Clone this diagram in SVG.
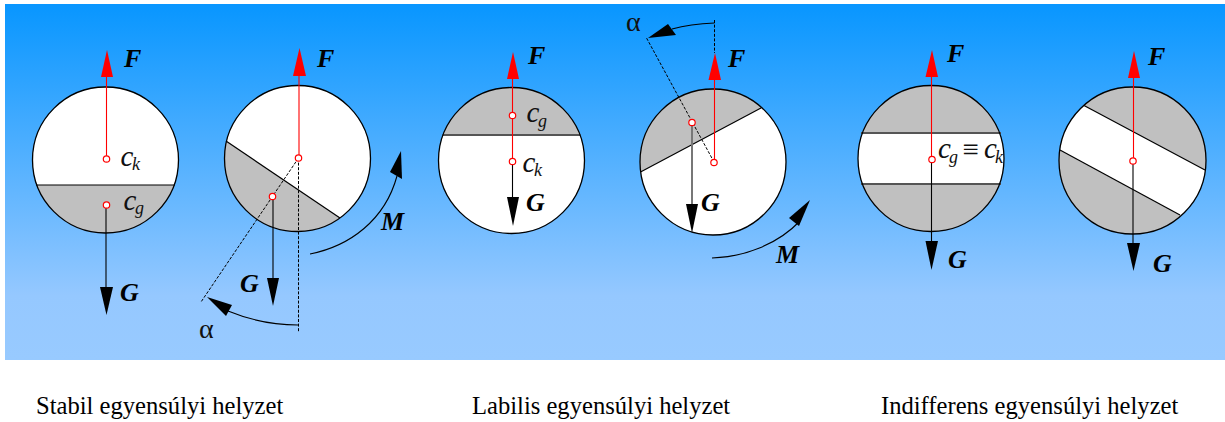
<svg xmlns="http://www.w3.org/2000/svg" width="1225" height="422" viewBox="0 0 1225 422">
<style>
.disc{fill:#fff;stroke:none}
.fill{fill:#c0c0c0;stroke:none}
.ring{fill:none;stroke:#000;stroke-width:1.3}
.chord{stroke:#000;stroke-width:1.2;fill:none}
.thick{stroke:#555;stroke-width:2;fill:none}
.f{stroke:#f00;stroke-width:1.1;fill:none}
.g{stroke:#000;stroke-width:1.1;fill:none}
.dash{stroke:#000;stroke-width:1;stroke-dasharray:3 1.6;fill:none}
.arc{stroke:#000;stroke-width:1.1;fill:none}
.hr{fill:#f00;stroke:none}
.hk{fill:#000;stroke:none}
.dot{fill:#fff;stroke:#f00;stroke-width:1.2}
.b{font:italic bold 26px "Liberation Serif",serif;fill:#000}
.c{font:italic 29px "Liberation Serif",serif;fill:#111}
.s{font:italic 18px "Liberation Serif",serif;fill:#111}
.e{font:29px "Liberation Serif",serif;fill:#111}
.a{font:28px "Liberation Serif",serif;fill:#111}
.t{font:24.6px "Liberation Serif",serif;fill:#000}
</style>
<defs>
<linearGradient id="bg" x1="0" y1="0" x2="0" y2="1"><stop offset="0" stop-color="#0896ff"/><stop offset="0.82" stop-color="#95c8ff"/><stop offset="1" stop-color="#98caff"/></linearGradient>
<clipPath id="c1"><circle cx="105.5" cy="160" r="73"/></clipPath>
<clipPath id="c2"><circle cx="297.5" cy="158.5" r="73"/></clipPath>
<clipPath id="c3"><circle cx="511.5" cy="160.5" r="73"/></clipPath>
<clipPath id="c4"><circle cx="713" cy="162" r="73"/></clipPath>
<clipPath id="c5"><circle cx="931" cy="158.5" r="73"/></clipPath>
<clipPath id="c6"><circle cx="1132.5" cy="160.5" r="73.5"/></clipPath>
</defs>
<rect id="background" x="5" y="4" width="1220" height="356" fill="url(#bg)"/>
<g id="disc-1">
<circle class="disc" cx="105.5" cy="160" r="73"/>
<rect class="fill" x="30" y="185" width="152" height="52" clip-path="url(#c1)"/>
<line class="chord" x1="36" y1="185" x2="175" y2="185"/>
<circle class="ring" cx="105.5" cy="160" r="73"/>
</g>
<g id="disc-2">
<circle class="disc" cx="297.5" cy="158.500" r="73"/>
<polygon class="fill" points="226,141 340,218 340,240 215,240 215,134" clip-path="url(#c2)"/>
<line class="chord" x1="226" y1="141" x2="340" y2="218"/>
<circle class="ring" cx="297.5" cy="158.500" r="73"/>
</g>
<g id="disc-3">
<circle class="disc" cx="511.5" cy="160.500" r="73"/>
<rect class="fill" x="436" y="85" width="152" height="50" clip-path="url(#c3)"/>
<line class="thick" x1="442.5" y1="135" x2="580.5" y2="135"/>
<circle class="ring" cx="511.5" cy="160.500" r="73"/>
</g>
<g id="disc-4">
<circle class="disc" cx="713" cy="162" r="73"/>
<polygon class="fill" points="640.5,172 761,108 761,80 630,80 630,177.6" clip-path="url(#c4)"/>
<line class="chord" x1="640.5" y1="172" x2="761" y2="108"/>
<circle class="ring" cx="713" cy="162" r="73"/>
</g>
<g id="disc-5">
<circle class="disc" cx="931" cy="158.500" r="73"/>
<rect class="fill" x="855" y="83" width="152" height="50" clip-path="url(#c5)"/>
<rect class="fill" x="855" y="184" width="152" height="50" clip-path="url(#c5)"/>
<line class="thick" x1="861" y1="133" x2="1001" y2="133"/>
<line class="thick" x1="861" y1="184" x2="1001" y2="184"/>
<circle class="ring" cx="931" cy="158.500" r="73"/>
</g>
<g id="disc-6">
<circle class="disc" cx="1132.5" cy="160.500" r="73.500"/>
<polygon class="fill" points="1084,105.500 1205,170 1215,170 1215,80 1084,80" clip-path="url(#c6)"/>
<polygon class="fill" points="1060,150 1180,215 1180,240 1050,240 1050,144.600" clip-path="url(#c6)"/>
<line class="chord" x1="1084" y1="105.500" x2="1205" y2="170"/>
<line class="chord" x1="1060" y1="150" x2="1180" y2="215"/>
<circle class="ring" cx="1132.5" cy="160.500" r="73.500"/>
</g>
<g id="connectors">
<line class="dash" x1="298.5" y1="158" x2="298.5" y2="332"/>
<line class="dash" x1="298.5" y1="158" x2="201" y2="302"/>
<line class="dash" x1="714.5" y1="20" x2="714.5" y2="53"/>
<line class="dash" x1="714" y1="162" x2="646" y2="37"/>
<line class="g" x1="106" y1="205" x2="106" y2="290"/><polygon class="hk" points="100,287 113,287 106.5,315"/>
<line class="f" x1="106.5" y1="159" x2="106.5" y2="77"/><polygon class="hr" points="101,77 113,77 107,50"/>
<line class="g" x1="273" y1="196" x2="273" y2="280"/><polygon class="hk" points="267,278 279,278 273,306"/>
<line class="f" x1="299" y1="158" x2="299" y2="76"/><polygon class="hr" points="293,76 306,76 299.500,48"/>
<path class="arc" d="M310 254C350 246 385 220 397 176"/><polygon class="hk" points="401,151 402,179 390,172"/>
<path class="arc" d="M298 325C275 325 250 320 228 311"/><polygon class="hk" points="207,297 232,305 226,316"/>
<line class="g" x1="512.5" y1="161.500" x2="512.5" y2="200"/><polygon class="hk" points="507,197 519,197 513,226"/>
<line class="f" x1="512.5" y1="161.500" x2="512.5" y2="79"/><polygon class="hr" points="507,79 519,79 513,52"/>
<line class="g" x1="692" y1="122.500" x2="692" y2="206" style="stroke-width:2;stroke:#777"/><polygon class="hk" points="686,204 698,204 692,233"/>
<line class="f" x1="714.5" y1="162.500" x2="714.5" y2="80"/><polygon class="hr" points="708.500,80 721,80 715,53"/>
<path class="arc" d="M714.5 23C700 23.500 686 25 672 29"/><polygon class="hk" points="648,38 668,24 676,35"/>
<path class="arc" d="M712 258C745 257 778 244 800 221"/><polygon class="hk" points="810,200 799,226 789,218"/>
<line class="g" x1="931.5" y1="159.500" x2="931.5" y2="245"/><polygon class="hk" points="925.500,241 938,241 931.500,270"/>
<line class="f" x1="931.5" y1="159.500" x2="931.5" y2="77"/><polygon class="hr" points="925.500,77 938,77 932,50"/>
<line class="g" x1="1133" y1="161" x2="1133" y2="245"/><polygon class="hk" points="1127,243 1140,243 1133.500,271"/>
<line class="f" x1="1133.5" y1="161" x2="1133.5" y2="78"/><polygon class="hr" points="1128,78 1140,78 1134,51"/>
</g>
<g id="centres">
<circle class="dot" cx="106.5" cy="159" r="3.200"/><circle class="dot" cx="106.5" cy="205" r="3.200"/>
<circle class="dot" cx="298.5" cy="158" r="3.200"/><circle class="dot" cx="272.500" cy="196.500" r="3.200"/>
<circle class="dot" cx="512.500" cy="115.500" r="3.200"/><circle class="dot" cx="512.500" cy="161.500" r="3.200"/>
<circle class="dot" cx="692" cy="122.500" r="3.200"/><circle class="dot" cx="714" cy="162.500" r="3.200"/>
<circle class="dot" cx="932" cy="159.500" r="3.200"/><circle class="dot" cx="1133" cy="161" r="3.200"/>
</g>
<g id="labels">
<text class="b" x="124" y="67">F</text><text class="c" x="120.500" y="166">c</text><text class="s" x="132" y="170">k</text>
<text class="c" x="123.500" y="210">c</text><text class="s" x="135" y="214">g</text><text class="b" x="120" y="301">G</text>
<text class="b" x="317" y="67">F</text><text class="b" x="381" y="230">M</text><text class="b" x="240" y="292">G</text><text class="a" x="199" y="338">α</text>
<text class="b" x="528" y="64">F</text><text class="c" x="526.500" y="122">c</text><text class="s" x="538" y="127">g</text><text class="c" x="522.500" y="172">c</text><text class="s" x="534" y="176">k</text><text class="b" x="526" y="211">G</text>
<text class="a" x="626" y="31">α</text><text class="b" x="728" y="67">F</text><text class="b" x="701" y="211">G</text><text class="b" x="776" y="263">M</text>
<text class="b" x="947" y="62">F</text><text class="c" x="938" y="158">c</text><text class="s" x="949" y="163">g</text><text class="e" x="962.500" y="159">≡</text><text class="c" x="984" y="158">c</text><text class="s" x="995" y="163">k</text><text class="b" x="948" y="268">G</text>
<text class="b" x="1148" y="65">F</text><text class="b" x="1153" y="272">G</text>
<text class="t" x="36" y="414">Stabil egyensúlyi helyzet</text>
<text class="t" x="472" y="414">Labilis egyensúlyi helyzet</text>
<text class="t" x="881" y="414">Indifferens egyensúlyi helyzet</text>
</g>
</svg>
